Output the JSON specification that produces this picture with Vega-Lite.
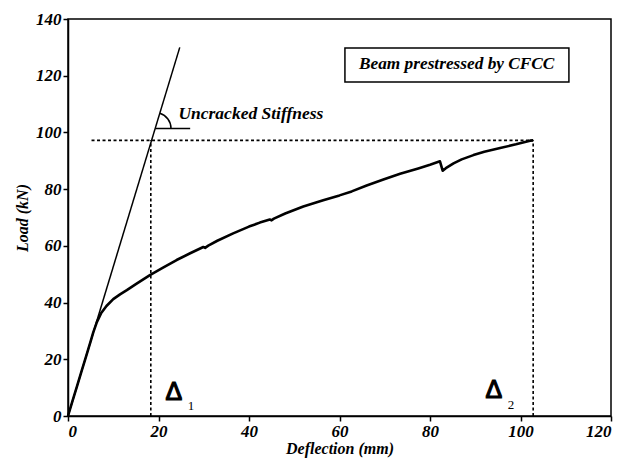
{
  "$schema": "https://vega.github.io/schema/vega-lite/v6.json",
  "width": 543,
  "height": 397,
  "autosize": {"type": "none"},
  "padding": {"left": 68, "top": 19, "right": 25, "bottom": 42},
  "background": "white",
  "config": {
    "view": {"stroke": "black", "strokeWidth": 1.5},
    "axis": {
      "grid": false,
      "domainColor": "black",
      "domainWidth": 1.5,
      "tickColor": "black",
      "tickWidth": 1.5,
      "tickSize": 5,
      "labelFont": "Liberation Serif",
      "labelFontStyle": "italic",
      "labelFontWeight": "bold",
      "labelFontSize": 17,
      "labelColor": "black",
      "labelPadding": 2,
      "titleFont": "Liberation Serif",
      "titleFontStyle": "italic",
      "titleFontWeight": "bold",
      "titleFontSize": 16,
      "titleColor": "black"
    }
  },
  "encoding": {
    "x": {
      "field": "x",
      "type": "quantitative",
      "scale": {"domain": [0, 120], "nice": false, "zero": false},
      "axis": {"title": "Deflection (mm)", "values": [0, 20, 40, 60, 80, 100, 120], "titlePadding": 1, "labelOverlap": false}
    },
    "y": {
      "field": "y",
      "type": "quantitative",
      "scale": {"domain": [0, 140], "nice": false, "zero": false},
      "axis": {"title": "Load (kN)", "values": [0, 20, 40, 60, 80, 100, 120, 140], "titlePadding": 5, "labelOverlap": false}
    }
  },
  "layer": [
    {
      "data": {"values": [
        {"x": 0, "y": 0}, {"x": 1, "y": 5.3}, {"x": 2, "y": 10.5}, {"x": 3, "y": 15.8}, {"x": 4, "y": 21.0},
        {"x": 5, "y": 26.3}, {"x": 5.6, "y": 29.6}, {"x": 6.4, "y": 33.2}, {"x": 7.3, "y": 36.2},
        {"x": 8.5, "y": 38.8}, {"x": 10, "y": 41.2}, {"x": 11.5, "y": 42.9}, {"x": 13, "y": 44.4},
        {"x": 15, "y": 46.5}, {"x": 18.1, "y": 49.7}, {"x": 21, "y": 52.3}, {"x": 24, "y": 55},
        {"x": 27, "y": 57.4}, {"x": 29.9, "y": 59.6}, {"x": 30.3, "y": 59.3}, {"x": 31, "y": 60.1},
        {"x": 33, "y": 61.8}, {"x": 36.5, "y": 64.4}, {"x": 40, "y": 66.8}, {"x": 42.4, "y": 68.2},
        {"x": 44.6, "y": 69.3}, {"x": 45, "y": 69.0}, {"x": 45.5, "y": 69.6}, {"x": 48, "y": 71.4},
        {"x": 52, "y": 73.9}, {"x": 56.4, "y": 76.1}, {"x": 60, "y": 77.8}, {"x": 62.7, "y": 79.2},
        {"x": 66, "y": 81.3}, {"x": 69.7, "y": 83.4}, {"x": 73.4, "y": 85.4}, {"x": 77.4, "y": 87.3},
        {"x": 80, "y": 88.6}, {"x": 82.2, "y": 89.8}, {"x": 82.8, "y": 86.5}, {"x": 83.5, "y": 87.4},
        {"x": 85.2, "y": 89.1}, {"x": 87, "y": 90.5}, {"x": 89.6, "y": 92.0}, {"x": 92, "y": 93.2},
        {"x": 95.5, "y": 94.5}, {"x": 99, "y": 95.8}, {"x": 102.1, "y": 97.1}, {"x": 102.8, "y": 97.2}
      ]},
      "mark": {"type": "line", "color": "black", "strokeWidth": 2.6, "strokeJoin": "round"}
    },
    {
      "data": {"values": [{"x": 0, "y": 0, "x2": 24.7, "y2": 130}]},
      "mark": {"type": "rule", "color": "black", "strokeWidth": 1.5},
      "encoding": {"x2": {"field": "x2"}, "y2": {"field": "y2"}}
    },
    {
      "data": {"values": [
        {"x": 5.2, "y": 97.2, "x2": 102.8, "y2": 97.2},
        {"x": 18.3, "y": 0, "x2": 18.3, "y2": 97.2},
        {"x": 102.8, "y": 0, "x2": 102.8, "y2": 97.2}
      ]},
      "mark": {"type": "rule", "color": "black", "strokeWidth": 1.6, "strokeDash": [3, 2.5]},
      "encoding": {"x2": {"field": "x2"}, "y2": {"field": "y2"}}
    },
    {
      "data": {"values": [{"x": 19.27, "y": 101.4, "x2": 27, "y2": 101.4}]},
      "mark": {"type": "rule", "color": "black", "strokeWidth": 1.5},
      "encoding": {"x2": {"field": "x2"}, "y2": {"field": "y2"}}
    },
    {
      "data": {"values": [{"x": 19.27, "y": 101.4}]},
      "mark": {"type": "point", "shape": "M 1 0 A 1 1 0 0 0 0.29 -0.957", "size": 1000, "filled": false, "color": "black", "strokeWidth": 1.5, "opacity": 1}
    },
    {
      "data": {"values": [{"x": 61.2, "y": 117.8, "x2": 110.7, "y2": 129.8}]},
      "mark": {"type": "rect", "fill": "white", "stroke": "black", "strokeWidth": 1.5},
      "encoding": {"x2": {"field": "x2"}, "y2": {"field": "y2"}}
    },
    {
      "data": {"values": [
        {"x": 24.4, "y": 106.5, "label": "Uncracked Stiffness"}
      ]},
      "mark": {"type": "text", "font": "Liberation Serif", "fontStyle": "italic", "fontWeight": "bold", "fontSize": 17.5, "align": "left", "baseline": "middle", "color": "black"},
      "encoding": {"text": {"field": "label"}}
    },
    {
      "data": {"values": [
        {"x": 85.9, "y": 124.0, "label": "Beam prestressed by CFCC"}
      ]},
      "mark": {"type": "text", "font": "Liberation Serif", "fontStyle": "italic", "fontWeight": "bold", "fontSize": 17.3, "align": "center", "baseline": "middle", "color": "black"},
      "encoding": {"text": {"field": "label"}}
    },
    {
      "data": {"values": [
        {"x": 23.4, "y": 8.3, "label": "Δ"},
        {"x": 94.1, "y": 9.0, "label": "Δ"}
      ]},
      "mark": {"type": "text", "font": "Liberation Sans", "fontWeight": "normal", "fontSize": 25, "align": "center", "baseline": "middle", "color": "black", "stroke": "black", "strokeWidth": 1.2},
      "encoding": {"text": {"field": "label"}}
    },
    {
      "data": {"values": [
        {"x": 27.2, "y": 3.4, "label": "1"},
        {"x": 97.9, "y": 3.9, "label": "2"}
      ]},
      "mark": {"type": "text", "font": "Liberation Serif", "fontSize": 13, "align": "center", "baseline": "middle", "color": "black"},
      "encoding": {"text": {"field": "label"}}
    }
  ]
}
